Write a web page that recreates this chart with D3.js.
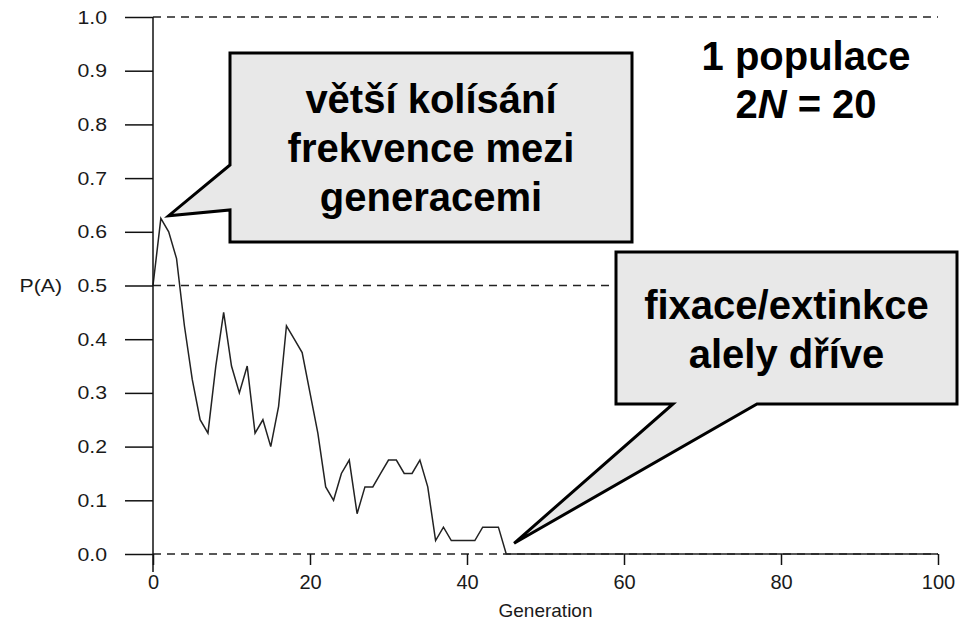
<!DOCTYPE html>
<html>
<head>
<meta charset="utf-8">
<script src="https://cdn.jsdelivr.net/npm/d3@7/dist/d3.min.js"></script>
<style>
body { margin: 0; background: #fff; }
svg { display: block; }
text { font-family: "Liberation Sans", Arial, sans-serif; }
</style>
</head>
<body>
<svg id="chart" width="975" height="627"></svg>
<script>
'use strict';

// allele frequency P(A) per generation, gen 0 .. 45 (lost at 45)
var freq = [0.5, 0.625, 0.6, 0.55, 0.425, 0.325, 0.25, 0.225, 0.35, 0.45,
	0.35, 0.3, 0.35, 0.225, 0.25, 0.2, 0.275, 0.425, 0.4, 0.375,
	0.3, 0.225, 0.125, 0.1, 0.15, 0.175, 0.075, 0.125, 0.125, 0.15,
	0.175, 0.175, 0.15, 0.15, 0.175, 0.125, 0.025, 0.05, 0.025, 0.025,
	0.025, 0.025, 0.05, 0.05, 0.05, 0];
var lastGeneration = 100;
var xTicks = [0, 20, 40, 60, 80, 100];
var yTicks = [0, 0.1, 0.2, 0.3, 0.4, 0.5, 0.6, 0.7, 0.8, 0.9, 1.0];
var refLevels = [0, 0.5, 1.0];

var svg = d3.select('#chart');
var x = d3.scaleLinear().domain([0, 100]).range([153, 938]);
var y = d3.scaleLinear().domain([0, 1]).range([554, 17]);
var sx = 1.12; // the original y labels are a bit wide

// dashed reference lines
svg.selectAll('line.ref')
	.data(refLevels)
	.enter()
	.append('line')
		.attr('x1', x(0))
		.attr('x2', x(100))
		.attr('y1', function(d) { return y(d); })
		.attr('y2', function(d) { return y(d); })
		.attr('stroke', '#222')
		.attr('stroke-width', 1.6)
		.attr('stroke-dasharray', '8,6');

// the drift trajectory, staying at 0 after loss
var pts = freq.map(function(v, i) { return [i, v]; });
pts.push([lastGeneration, 0]);
svg.append('path')
	.datum(pts)
	.attr('fill', 'none')
	.attr('stroke', '#222')
	.attr('stroke-width', 1.5)
	.attr('d', d3.line()
		.x(function(d) { return x(d[0]); })
		.y(function(d) { return y(d[1]); }));

// y axis
var yAxis = svg.append('g')
	.attr('transform', 'translate(' + x(0) + ',0)')
	.call(d3.axisLeft(y).tickValues(yTicks).tickSize(28).tickFormat(d3.format('.1f')));
yAxis.select('.domain').remove();
yAxis.selectAll('line').attr('stroke', '#111').attr('stroke-width', 1.5);
yAxis.selectAll('text')
	.attr('x', -46 / sx)
	.attr('transform', 'scale(' + sx + ',1)')
	.attr('fill', '#1a1a1a')
	.attr('font-size', 19)
	.attr('font-family', '"Liberation Sans", Arial, sans-serif');
svg.append('line')
	.attr('x1', x(0)).attr('x2', x(0))
	.attr('y1', y(1)).attr('y2', 572)
	.attr('stroke', '#111').attr('stroke-width', 1.5);

// x axis (ticks only, the zero line is the dashed one)
var xAxis = svg.append('g')
	.attr('transform', 'translate(0,' + y(0) + ')')
	.call(d3.axisBottom(x).tickValues(xTicks).tickSize(11).tickPadding(10));
xAxis.select('.domain').remove();
xAxis.selectAll('line').attr('stroke', '#111').attr('stroke-width', 1.5);
xAxis.selectAll('text')
	.attr('fill', '#1a1a1a')
	.attr('font-size', 20)
	.attr('font-family', '"Liberation Sans", Arial, sans-serif');

svg.append('text')
	.attr('x', x(50)).attr('y', 617)
	.attr('text-anchor', 'middle')
	.attr('font-size', 19)
	.attr('fill', '#1a1a1a')
	.text('Generation');
svg.append('text')
	.attr('x', 62 / sx).attr('y', y(0.5))
	.attr('transform', 'scale(' + sx + ',1)')
	.attr('dy', '0.32em')
	.attr('text-anchor', 'end')
	.attr('font-size', 19)
	.attr('fill', '#1a1a1a')
	.text('P(A)');

// callouts
function callout(box, tip, gap, side, lines, baselines) {
	var p;
	if (side === 'left') {
		p = [[box[0], box[1]], [box[2], box[1]], [box[2], box[3]], [box[0], box[3]],
			[box[0], gap[1]], tip, [box[0], gap[0]]];
	} else {
		p = [[box[0], box[1]], [box[2], box[1]], [box[2], box[3]], [gap[1], box[3]],
			tip, [gap[0], box[3]], [box[0], box[3]]];
	}
	svg.append('path')
		.attr('d', 'M' + p.join('L') + 'Z')
		.attr('fill', '#e8e8e8')
		.attr('stroke', '#000')
		.attr('stroke-width', 3)
		.attr('stroke-linejoin', 'miter');
	var t = svg.append('text')
		.attr('text-anchor', 'middle')
		.attr('font-size', 40)
		.attr('font-weight', 'bold');
	lines.forEach(function(l, i) {
		t.append('tspan')
			.attr('x', (box[0] + box[2]) / 2)
			.attr('y', baselines[i])
			.text(l);
	});
}

callout([230, 53, 632, 242], [x(2), y(0.63)], [165, 210], 'left',
	['větší kolísání', 'frekvence mezi', 'generacemi'], [113, 162, 211]);
callout([616, 252, 957, 404], [x(46), y(0.02)], [673, 757], 'bottom',
	['fixace/extinkce', 'alely dříve'], [319, 368]);

var info = svg.append('text')
	.attr('text-anchor', 'middle')
	.attr('font-size', 40)
	.attr('font-weight', 'bold');
info.append('tspan').attr('x', 806).attr('y', 70).text('1 populace');
var l2 = info.append('tspan').attr('x', 806).attr('y', 118);
l2.append('tspan').text('2');
l2.append('tspan').attr('font-style', 'italic').text('N');
l2.append('tspan').text(' = 20');
</script>
</body>
</html>
